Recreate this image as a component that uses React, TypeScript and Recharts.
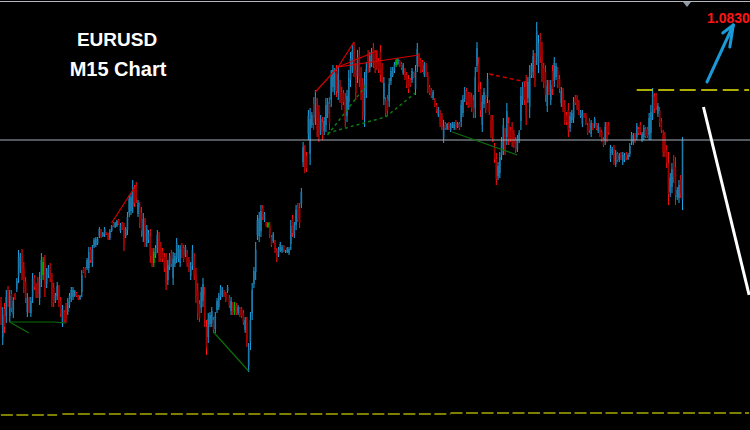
import { ComposedChart, Bar, XAxis, YAxis, ReferenceLine } from "recharts";

// EURUSD M15 candles (oldest first)
const opens = [
	1.07874, 1.07806, 1.07862, 1.07848, 1.079, 1.07848, 1.07892, 1.07852, 1.07892, 1.07902,
	1.07928, 1.07942, 1.0797, 1.07944, 1.07916, 1.07856, 1.0788, 1.07854, 1.07886, 1.07924,
	1.07908, 1.07918, 1.07884, 1.0792, 1.0793, 1.07954, 1.07912, 1.0793, 1.07946, 1.0792,
	1.07904, 1.07878, 1.07888, 1.07902, 1.07878, 1.07834, 1.07856, 1.07866, 1.07856, 1.0787,
	1.07882, 1.07886, 1.07888, 1.07894, 1.07888, 1.07882, 1.07896, 1.07944, 1.07942, 1.07944,
	1.07944, 1.0798, 1.07954, 1.07988, 1.0799, 1.07994, 1.08008, 1.08018, 1.08008, 1.0801,
	1.08016, 1.08012, 1.08004, 1.08018, 1.08034, 1.08026, 1.08028, 1.0804, 1.08018, 1.08032,
	1.08022, 1.08008, 1.0802, 1.08054, 1.08058, 1.08068, 1.08102, 1.08108, 1.08052, 1.08066,
	1.08054, 1.08008, 1.08032, 1.07994, 1.08, 1.08008, 1.07976, 1.07954, 1.0797, 1.07984,
	1.08004, 1.07988, 1.07978, 1.07966, 1.0796, 1.0792, 1.07946, 1.07974, 1.07924, 1.07952,
	1.07964, 1.07962, 1.07954, 1.07988, 1.07984, 1.0797, 1.07974, 1.0796, 1.07928, 1.0795,
	1.07964, 1.0793, 1.079, 1.07872, 1.07864, 1.07878, 1.0789, 1.07826, 1.07806, 1.07832,
	1.07834, 1.0784, 1.07822, 1.0786, 1.07866, 1.07886, 1.0789, 1.07898, 1.07892, 1.07898,
	1.07884, 1.07858, 1.0787, 1.07856, 1.0787, 1.07854, 1.07862, 1.07862, 1.07854, 1.0782,
	1.07834, 1.07748, 1.07796, 1.07854, 1.07912, 1.07936, 1.0801, 1.08008, 1.08018, 1.08064,
	1.0804, 1.08034, 1.08026, 1.0803, 1.08006, 1.07998, 1.07994, 1.07978, 1.0797, 1.0798,
	1.07978, 1.07988, 1.07976, 1.07976, 1.07974, 1.07992, 1.08042, 1.0801, 1.0803, 1.08066,
	1.08064, 1.08072, 1.08156, 1.08178, 1.08168, 1.08212, 1.08172, 1.0823, 1.08272, 1.08244,
	1.08268, 1.08256, 1.08218, 1.08236, 1.08218, 1.0823, 1.08252, 1.08272, 1.0828, 1.08306,
	1.083, 1.08338, 1.08294, 1.0831, 1.08296, 1.08294, 1.0828, 1.08248, 1.08276, 1.0832,
	1.08346, 1.08382, 1.0834, 1.08328, 1.0837, 1.08332, 1.08308, 1.08248, 1.08298, 1.0837,
	1.08344, 1.08354, 1.08384, 1.0837, 1.08372, 1.08358, 1.08376, 1.08346, 1.08282, 1.08278,
	1.08282, 1.08278, 1.08318, 1.0833, 1.08338, 1.0835, 1.08352, 1.08358, 1.08352, 1.08334,
	1.0834, 1.0833, 1.08322, 1.0832, 1.0832, 1.08334, 1.08302, 1.08348, 1.08368, 1.08358,
	1.08356, 1.08332, 1.08348, 1.08328, 1.08306, 1.083, 1.08284, 1.0828, 1.0827, 1.0825,
	1.08254, 1.08248, 1.08204, 1.08232, 1.08222, 1.08232, 1.0822, 1.08226, 1.08224, 1.08236,
	1.08226, 1.08232, 1.08236, 1.08254, 1.08282, 1.08298, 1.0829, 1.0829, 1.08286, 1.0828,
	1.08264, 1.08348, 1.08352, 1.08302, 1.0823, 1.08272, 1.08282, 1.08286, 1.08274, 1.0824,
	1.0824, 1.08186, 1.08162, 1.08128, 1.08134, 1.0817, 1.08184, 1.08214, 1.08206, 1.08234,
	1.0822, 1.08226, 1.08212, 1.082, 1.08182, 1.082, 1.08238, 1.0828, 1.08306, 1.0831,
	1.08284, 1.08266, 1.0833, 1.08336, 1.0836, 1.08368, 1.0835, 1.08402, 1.0838, 1.08344,
	1.08336, 1.08268, 1.08314, 1.0828, 1.08338, 1.08318, 1.08326, 1.08338, 1.08322, 1.08274,
	1.08294, 1.0827, 1.0825, 1.0826, 1.08224, 1.0824, 1.08244, 1.08286, 1.08284, 1.08274,
	1.08248, 1.08232, 1.08252, 1.0825, 1.0823, 1.08238, 1.08212, 1.08232, 1.08228, 1.08232,
	1.08218, 1.08222, 1.08216, 1.08202, 1.082, 1.08228, 1.0823, 1.08162, 1.08174, 1.08182,
	1.08152, 1.08172, 1.0816, 1.08172, 1.08156, 1.0816, 1.08172, 1.08162, 1.08172, 1.08196,
	1.08194, 1.0821, 1.08206, 1.08222, 1.0823, 1.082, 1.08206, 1.08222, 1.08222, 1.0821,
	1.08214, 1.08252, 1.08286, 1.08288, 1.08252, 1.08258, 1.08238, 1.0821, 1.08206, 1.0818,
	1.08154, 1.08096, 1.08106, 1.08158, 1.08146, 1.08086, 1.08084, 1.0812, 1.0808,
];

const highs = [
	1.07886, 1.07866, 1.07874, 1.079, 1.07908, 1.079, 1.079, 1.07886, 1.07894, 1.07924,
	1.0798, 1.07974, 1.07982, 1.07956, 1.07926, 1.07894, 1.07886, 1.07886, 1.07934, 1.0793,
	1.07914, 1.07926, 1.07936, 1.07974, 1.07966, 1.0797, 1.07944, 1.0795, 1.07954, 1.07934,
	1.07914, 1.07894, 1.07916, 1.0791, 1.07886, 1.0787, 1.0786, 1.07874, 1.07884, 1.07894,
	1.07906, 1.07906, 1.079, 1.07896, 1.0789, 1.0789, 1.0794, 1.07946, 1.07946, 1.07964,
	1.07986, 1.07986, 1.0799, 1.08004, 1.08006, 1.08006, 1.08026, 1.08022, 1.08016, 1.08026,
	1.08016, 1.08014, 1.08022, 1.0803, 1.08036, 1.08036, 1.0804, 1.08042, 1.08034, 1.08036,
	1.08034, 1.08026, 1.08056, 1.0809, 1.08094, 1.0812, 1.0811, 1.08116, 1.0808, 1.08076,
	1.08066, 1.08054, 1.08044, 1.0803, 1.0802, 1.08022, 1.07984, 1.07984, 1.0799, 1.0802,
	1.08016, 1.07996, 1.07984, 1.07974, 1.07974, 1.0796, 1.07974, 1.0798, 1.07976, 1.07974,
	1.08004, 1.0799, 1.0799, 1.07994, 1.0799, 1.0799, 1.0798, 1.07966, 1.07956, 1.0799,
	1.07974, 1.07944, 1.07914, 1.0788, 1.07906, 1.07924, 1.07906, 1.0784, 1.07854, 1.07856,
	1.07866, 1.07846, 1.07856, 1.07884, 1.07894, 1.0791, 1.07906, 1.079, 1.07896, 1.0791,
	1.0789, 1.07886, 1.07876, 1.07876, 1.07874, 1.0787, 1.07866, 1.07866, 1.0786, 1.07846,
	1.07846, 1.07794, 1.07856, 1.07914, 1.07946, 1.07996, 1.0805, 1.08056, 1.0807, 1.0807,
	1.08056, 1.08036, 1.08036, 1.08036, 1.0801, 1.08016, 1.08, 1.07984, 1.07986, 1.07996,
	1.0799, 1.0799, 1.0798, 1.07986, 1.07986, 1.0804, 1.0805, 1.08036, 1.0807, 1.08074,
	1.08074, 1.08104, 1.08196, 1.0819, 1.08176, 1.0826, 1.08264, 1.08256, 1.08286, 1.083,
	1.08284, 1.0827, 1.0825, 1.08246, 1.08246, 1.08284, 1.08284, 1.08286, 1.0834, 1.0835,
	1.08344, 1.0835, 1.08346, 1.0832, 1.08306, 1.083, 1.08294, 1.083, 1.0834, 1.08376,
	1.0839, 1.08396, 1.08354, 1.0838, 1.08386, 1.08346, 1.08324, 1.08336, 1.08356, 1.0838,
	1.08376, 1.08384, 1.08394, 1.0838, 1.0838, 1.08364, 1.0839, 1.08354, 1.08326, 1.08286,
	1.0829, 1.08324, 1.08346, 1.08346, 1.08356, 1.08364, 1.08364, 1.0836, 1.08356, 1.08354,
	1.08344, 1.08336, 1.0833, 1.08324, 1.08344, 1.08336, 1.0835, 1.08394, 1.08374, 1.08364,
	1.0836, 1.08356, 1.08354, 1.08336, 1.0831, 1.08304, 1.083, 1.08284, 1.08274, 1.08266,
	1.0826, 1.08254, 1.0824, 1.08236, 1.08234, 1.08236, 1.08234, 1.08236, 1.08236, 1.0824,
	1.08236, 1.08236, 1.0828, 1.0829, 1.08306, 1.08304, 1.08296, 1.08296, 1.08294, 1.0829,
	1.08346, 1.08396, 1.08366, 1.08316, 1.0829, 1.08304, 1.0829, 1.08334, 1.0828, 1.0825,
	1.0825, 1.08194, 1.08174, 1.08156, 1.08176, 1.08206, 1.08244, 1.08224, 1.08274, 1.08246,
	1.08226, 1.08236, 1.0822, 1.08206, 1.0821, 1.0822, 1.08306, 1.08316, 1.08316, 1.0833,
	1.08326, 1.0835, 1.08354, 1.0838, 1.08374, 1.08436, 1.0841, 1.08414, 1.08396, 1.08354,
	1.0835, 1.0832, 1.0832, 1.0832, 1.0835, 1.08366, 1.08354, 1.08346, 1.0833, 1.08306,
	1.08304, 1.0828, 1.08256, 1.08274, 1.08256, 1.0826, 1.08286, 1.0829, 1.0829, 1.0828,
	1.0826, 1.0826, 1.08254, 1.08254, 1.08234, 1.08244, 1.0824, 1.08234, 1.08246, 1.08234,
	1.08234, 1.08226, 1.0822, 1.08206, 1.08236, 1.08236, 1.08236, 1.0819, 1.08186, 1.0819,
	1.0818, 1.08176, 1.08174, 1.08176, 1.08176, 1.08174, 1.08176, 1.08174, 1.08194, 1.08216,
	1.08214, 1.08214, 1.08234, 1.08226, 1.08236, 1.08216, 1.0823, 1.08226, 1.08226, 1.08254,
	1.0827, 1.08304, 1.08294, 1.08294, 1.08274, 1.08266, 1.08244, 1.0822, 1.08216, 1.0819,
	1.08176, 1.08134, 1.08154, 1.0817, 1.08166, 1.08106, 1.0812, 1.0813, 1.08206,
];

const lows = [
	1.0783, 1.0779, 1.07814, 1.07834, 1.07866, 1.07836, 1.07856, 1.07844, 1.0788, 1.07896,
	1.07914, 1.07934, 1.0792, 1.07894, 1.07874, 1.07846, 1.07854, 1.07846, 1.07874, 1.079,
	1.07884, 1.07884, 1.0787, 1.07906, 1.0792, 1.07886, 1.07904, 1.07924, 1.07916, 1.07866,
	1.07866, 1.07874, 1.0788, 1.07866, 1.07846, 1.07826, 1.07836, 1.07834, 1.0785, 1.07864,
	1.07876, 1.0788, 1.07886, 1.07886, 1.0788, 1.0788, 1.07886, 1.07934, 1.07924, 1.0794,
	1.07934, 1.07954, 1.07946, 1.07984, 1.07986, 1.0799, 1.08004, 1.08004, 1.08006, 1.08006,
	1.0801, 1.08, 1.08, 1.08016, 1.08026, 1.08024, 1.08026, 1.0803, 1.08014, 1.0802,
	1.07978, 1.08004, 1.0801, 1.08046, 1.0805, 1.08054, 1.08066, 1.08074, 1.08046, 1.08024,
	1.08006, 1.07996, 1.07986, 1.07986, 1.07994, 1.07954, 1.07946, 1.07946, 1.07964, 1.07974,
	1.07956, 1.07956, 1.07956, 1.07936, 1.079, 1.0791, 1.0794, 1.07946, 1.0791, 1.07946,
	1.07954, 1.07956, 1.07946, 1.07964, 1.07956, 1.07966, 1.07946, 1.07936, 1.0792, 1.0794,
	1.0792, 1.07874, 1.0784, 1.07836, 1.07854, 1.07866, 1.07826, 1.0777, 1.07794, 1.07826,
	1.07826, 1.07814, 1.07814, 1.07854, 1.0786, 1.0788, 1.07886, 1.07886, 1.07876, 1.07894,
	1.07864, 1.0785, 1.0785, 1.0785, 1.0785, 1.0785, 1.07846, 1.07844, 1.0783, 1.07814,
	1.07786, 1.07736, 1.0778, 1.0784, 1.07904, 1.0792, 1.08, 1.07996, 1.08006, 1.0804,
	1.08036, 1.08026, 1.08024, 1.08004, 1.07986, 1.07994, 1.07974, 1.07956, 1.07966, 1.07976,
	1.07974, 1.07976, 1.07974, 1.07974, 1.0797, 1.0798, 1.08006, 1.08004, 1.0802, 1.08036,
	1.08024, 1.08064, 1.08146, 1.08134, 1.08136, 1.082, 1.0815, 1.08224, 1.0822, 1.0823,
	1.08206, 1.08196, 1.0821, 1.082, 1.0821, 1.08216, 1.08244, 1.0822, 1.08266, 1.08296,
	1.0829, 1.08286, 1.0828, 1.08274, 1.0826, 1.0827, 1.08226, 1.08236, 1.0826, 1.08306,
	1.08334, 1.08326, 1.0828, 1.08314, 1.08306, 1.0828, 1.0824, 1.08226, 1.08284, 1.08334,
	1.08336, 1.08346, 1.08344, 1.08334, 1.0834, 1.08334, 1.08316, 1.08314, 1.0827, 1.08246,
	1.0825, 1.08266, 1.0831, 1.08326, 1.08334, 1.08346, 1.0835, 1.08346, 1.0834, 1.0833,
	1.0832, 1.08304, 1.08294, 1.08306, 1.08314, 1.08324, 1.0829, 1.08336, 1.08346, 1.08334,
	1.08336, 1.08326, 1.08326, 1.08294, 1.0829, 1.08284, 1.0828, 1.08266, 1.08254, 1.08246,
	1.08226, 1.0822, 1.08194, 1.0822, 1.0822, 1.0822, 1.08216, 1.08224, 1.0822, 1.0822,
	1.08224, 1.0822, 1.08226, 1.08246, 1.08276, 1.0827, 1.08264, 1.08266, 1.08256, 1.08244,
	1.08244, 1.08336, 1.08296, 1.08246, 1.08216, 1.08264, 1.08254, 1.08274, 1.0825, 1.08204,
	1.08196, 1.08154, 1.0811, 1.0812, 1.08124, 1.0816, 1.0817, 1.0817, 1.0819, 1.0819,
	1.08196, 1.08186, 1.08184, 1.08174, 1.08176, 1.08194, 1.0822, 1.0827, 1.0827, 1.0823,
	1.08274, 1.08244, 1.08324, 1.08324, 1.08306, 1.0835, 1.08334, 1.08354, 1.08316, 1.08304,
	1.08276, 1.08256, 1.0829, 1.0827, 1.0829, 1.08306, 1.0832, 1.08304, 1.08294, 1.08266,
	1.08256, 1.0823, 1.0823, 1.08206, 1.08216, 1.08234, 1.08234, 1.0827, 1.0826, 1.0825,
	1.08244, 1.08226, 1.08244, 1.0823, 1.0821, 1.08214, 1.08206, 1.0822, 1.08224, 1.0822,
	1.08214, 1.08206, 1.08196, 1.08186, 1.0819, 1.08196, 1.0821, 1.08156, 1.0817, 1.0815,
	1.08146, 1.08156, 1.08156, 1.0816, 1.0815, 1.08156, 1.0816, 1.0816, 1.08166, 1.0819,
	1.0819, 1.08194, 1.082, 1.0821, 1.0821, 1.08196, 1.082, 1.08204, 1.08204, 1.082,
	1.082, 1.0824, 1.08254, 1.0826, 1.08246, 1.08226, 1.08214, 1.08166, 1.08166, 1.08144,
	1.0807, 1.08086, 1.08094, 1.08114, 1.0807, 1.0808, 1.08074, 1.08084, 1.0806,
];

const closes = [
	1.07842, 1.0785, 1.07826, 1.07886, 1.07874, 1.07888, 1.07864, 1.07878, 1.07882, 1.07918,
	1.07966, 1.07966, 1.07932, 1.07906, 1.07884, 1.07884, 1.0786, 1.07878, 1.07922, 1.07906,
	1.0789, 1.07892, 1.07922, 1.0796, 1.07956, 1.07902, 1.07936, 1.07944, 1.07924, 1.0788,
	1.07876, 1.0789, 1.07908, 1.07874, 1.07854, 1.07862, 1.0784, 1.07842, 1.07878, 1.07888,
	1.079, 1.079, 1.07898, 1.07888, 1.07882, 1.07888, 1.0793, 1.07936, 1.07928, 1.0796,
	1.07976, 1.0796, 1.07982, 1.08, 1.08002, 1.08002, 1.08022, 1.08008, 1.08014, 1.08022,
	1.08012, 1.08002, 1.08018, 1.08028, 1.08028, 1.08034, 1.08038, 1.08032, 1.0803, 1.08024,
	1.0799, 1.08022, 1.08046, 1.08082, 1.08086, 1.08106, 1.08074, 1.08082, 1.08074, 1.08034,
	1.08018, 1.08042, 1.07998, 1.08022, 1.08014, 1.07968, 1.07954, 1.07976, 1.07984, 1.0801,
	1.07968, 1.07964, 1.07962, 1.07944, 1.07914, 1.0795, 1.07968, 1.07952, 1.07962, 1.07968,
	1.07994, 1.07984, 1.07982, 1.0797, 1.07962, 1.07986, 1.07952, 1.07942, 1.07948, 1.0798,
	1.0793, 1.07888, 1.07854, 1.07844, 1.07896, 1.07912, 1.07842, 1.07784, 1.07842, 1.0785,
	1.07858, 1.0782, 1.07848, 1.07878, 1.07888, 1.07904, 1.07902, 1.07888, 1.0788, 1.07906,
	1.0787, 1.07878, 1.07856, 1.0787, 1.07854, 1.07866, 1.0785, 1.07848, 1.07836, 1.0784,
	1.07798, 1.07782, 1.0784, 1.079, 1.07938, 1.0798, 1.0804, 1.08044, 1.08058, 1.08046,
	1.08052, 1.08028, 1.08034, 1.0801, 1.0799, 1.08012, 1.0798, 1.07962, 1.07982, 1.07992,
	1.07986, 1.07978, 1.07978, 1.07984, 1.07982, 1.08028, 1.08014, 1.0803, 1.0806, 1.08044,
	1.08034, 1.08096, 1.08186, 1.08146, 1.08144, 1.08248, 1.08242, 1.0825, 1.08234, 1.08286,
	1.08222, 1.0821, 1.08242, 1.0821, 1.08238, 1.0827, 1.08276, 1.08234, 1.08326, 1.0834,
	1.08334, 1.08298, 1.08332, 1.08284, 1.0827, 1.08276, 1.0824, 1.08288, 1.08324, 1.08362,
	1.08378, 1.0834, 1.08294, 1.08366, 1.08322, 1.08294, 1.08256, 1.08314, 1.08342, 1.08344,
	1.08368, 1.08376, 1.08354, 1.08344, 1.08348, 1.0834, 1.0833, 1.08322, 1.08314, 1.08254,
	1.08258, 1.08312, 1.08338, 1.08342, 1.08352, 1.0836, 1.08362, 1.08348, 1.08344, 1.0835,
	1.08324, 1.0831, 1.08302, 1.0831, 1.08338, 1.08326, 1.08338, 1.08382, 1.08352, 1.0834,
	1.0834, 1.0835, 1.08332, 1.08302, 1.08294, 1.08288, 1.08296, 1.0827, 1.08258, 1.08262,
	1.08232, 1.08226, 1.0823, 1.08224, 1.08232, 1.08224, 1.0823, 1.08234, 1.08232, 1.08224,
	1.08234, 1.08224, 1.0827, 1.08282, 1.083, 1.08276, 1.0827, 1.08272, 1.08264, 1.08254,
	1.08326, 1.08384, 1.0831, 1.0826, 1.08276, 1.08296, 1.08262, 1.08322, 1.08256, 1.08214,
	1.08206, 1.08162, 1.08122, 1.08148, 1.08166, 1.08196, 1.0823, 1.0818, 1.08258, 1.08202,
	1.08202, 1.08196, 1.08192, 1.0818, 1.08204, 1.08214, 1.08288, 1.08306, 1.0828, 1.0825,
	1.08316, 1.08328, 1.08348, 1.08368, 1.0832, 1.08418, 1.08394, 1.08366, 1.08332, 1.08314,
	1.0829, 1.08308, 1.08296, 1.0831, 1.08302, 1.08354, 1.08348, 1.08312, 1.08302, 1.08298,
	1.08266, 1.0824, 1.08236, 1.0822, 1.08248, 1.08254, 1.08276, 1.08274, 1.08266, 1.08256,
	1.08256, 1.08254, 1.08246, 1.08234, 1.08214, 1.0822, 1.08234, 1.08222, 1.08242, 1.08222,
	1.0823, 1.0821, 1.082, 1.0819, 1.08226, 1.08204, 1.08216, 1.08184, 1.08182, 1.08158,
	1.08174, 1.0816, 1.0817, 1.08164, 1.0817, 1.0817, 1.08164, 1.0817, 1.08188, 1.0821,
	1.0821, 1.08198, 1.08228, 1.08214, 1.08216, 1.08212, 1.08224, 1.08208, 1.08208, 1.08244,
	1.08256, 1.08292, 1.08262, 1.08266, 1.08268, 1.08234, 1.0822, 1.08176, 1.08176, 1.08154,
	1.08092, 1.08124, 1.08142, 1.08126, 1.0809, 1.081, 1.0811, 1.08094, 1.082,
];

// bars the indicator paints green
const greenBars = [24, 87, 133, 152, 225];

// empty space kept on the right of the last bar
const totalSlots = 427;

const priceDomain = [1.0762, 1.0848];
const bidPrice = 1.082;
const targetLevel = 1.083;
const targetLabel = "1.0830";

// zigzag legs: [fromBar, fromPrice, toBar, toPrice]
const zigRed = [
	[63, 1.08034, 77, 1.0811],
	[179, 1.08296, 192, 1.08346],
	[192, 1.08346, 201, 1.08396],
	[192, 1.08346, 214, 1.08378],
	[214, 1.08378, 214, 1.08356],
	[192, 1.08346, 238, 1.0837],
];
const zigGreen = [
	[5, 1.07836, 16, 1.07814],
	[5, 1.07836, 30, 1.07836],
	[30, 1.07836, 37, 1.07834],
	[121, 1.07816, 141, 1.07738],
	[257, 1.08216, 294, 1.0817],
];
const zigGreenDashed = [
	[186, 1.0821, 209, 1.08314],
	[186, 1.08214, 219, 1.08246],
	[219, 1.08246, 236, 1.08294],
];
const zigRedDashed = [[278, 1.08332, 299, 1.08316]];

// lower support level, drawn in three pieces as on the chart
const supportPieces = [
	[0, 1.0765, 32],
	[35, 1.07652, 256],
	[256, 1.07654, 426],
];

// hand-drawn projection arrows
const downLeg = [400, 1.08266, 426, 1.0789];
const upArrow = [
	[402, 1.08316, 417, 1.0843],
	[417, 1.0843, 411, 1.08414],
	[417, 1.0843, 415, 1.08386],
];

const data = Array.from({ length: totalSlots }, (_, i) =>
	i < opens.length
		? {
				i,
				range: [lows[i], highs[i]],
				o: opens[i],
				h: highs[i],
				l: lows[i],
				c: closes[i],
				green: greenBars.includes(i),
		  }
		: { i, range: null }
);

const Candle = (props: any) => {
	const { x, y, width, height, payload } = props;
	if (!payload || payload.o == null) return null;
	const { o, h, l, c, green } = payload;
	const top = Math.min(y, y + height);
	const bot = Math.max(y, y + height);
	const k = h === l ? 0 : (bot - top) / (h - l);
	const bodyTop = top + (h - Math.max(o, c)) * k;
	const bodyBot = top + (h - Math.min(o, c)) * k;
	const cx = x + width / 2;
	const up = c >= o;
	const wick = green ? "#00c800" : up ? "#1ea6e8" : "#ff1010";
	const body = green ? "#00b000" : up ? "#1c79ab" : "#a30000";
	return (
		<g>
			<line x1={cx} x2={cx} y1={top} y2={bot} stroke={wick} strokeWidth={1} />
			<rect
				x={cx - 0.8}
				y={bodyTop}
				width={1.6}
				height={Math.max(1, bodyBot - bodyTop)}
				fill={body}
			/>
		</g>
	);
};

const seg = (x1: number, y1: number, x2: number, y2: number) => [
	{ x: x1, y: y1 },
	{ x: x2, y: y2 },
];

const App = () => {
	return (
		<div
			style={{
				position: "absolute",
				left: 0,
				top: 0,
				width: 750,
				height: 430,
				background: "#000",
				overflow: "hidden",
			}}
		>
			<ComposedChart
				width={750}
				height={430}
				data={data}
				margin={{ top: 0, right: 0, bottom: 0, left: 0 }}
				barCategoryGap={0}
			>
				<XAxis dataKey="i" type="category" hide />
				<YAxis type="number" domain={priceDomain} allowDataOverflow hide />
				<ReferenceLine y={bidPrice} stroke="#a7b1bf" strokeWidth={1} />
				<ReferenceLine
					segment={seg(362, targetLevel, 426, targetLevel)}
					stroke="#e8e800"
					strokeWidth={1.6}
					strokeDasharray="16 5.5"
					ifOverflow="visible"
				/>
				{supportPieces.map(([a, p, b], k) => (
					<ReferenceLine
						key={`s${k}`}
						segment={seg(a, p, b, p)}
						stroke="#808000"
						strokeWidth={2}
						strokeDasharray="12 3.5"
						ifOverflow="visible"
					/>
				))}
				<Bar dataKey="range" shape={Candle} isAnimationActive={false} />
				{zigRed.map(([a, p, b, q], k) => (
					<ReferenceLine
						key={`zr${k}`}
						segment={seg(a, p, b, q)}
						stroke="#d40000"
						strokeWidth={1.2}
						ifOverflow="visible"
					/>
				))}
				{zigGreen.map(([a, p, b, q], k) => (
					<ReferenceLine
						key={`zg${k}`}
						segment={seg(a, p, b, q)}
						stroke="#0b6e0b"
						strokeWidth={1.2}
						ifOverflow="visible"
					/>
				))}
				{zigGreenDashed.map(([a, p, b, q], k) => (
					<ReferenceLine
						key={`zgd${k}`}
						segment={seg(a, p, b, q)}
						stroke="#0d7a0d"
						strokeWidth={1.5}
						strokeDasharray="3 3"
						ifOverflow="visible"
					/>
				))}
				{zigRedDashed.map(([a, p, b, q], k) => (
					<ReferenceLine
						key={`zrd${k}`}
						segment={seg(a, p, b, q)}
						stroke="#c80000"
						strokeWidth={1.6}
						strokeDasharray="4 3"
						ifOverflow="visible"
					/>
				))}
				<ReferenceLine
					segment={seg(downLeg[0], downLeg[1], downLeg[2], downLeg[3])}
					stroke="#ffffff"
					strokeWidth={3}
					ifOverflow="visible"
				/>
				{upArrow.map(([a, p, b, q], k) => (
					<ReferenceLine
						key={`ua${k}`}
						segment={seg(a, p, b, q)}
						stroke="#1b9ad8"
						strokeWidth={3}
						strokeLinecap="round"
						ifOverflow="visible"
					/>
				))}
			</ComposedChart>
			<div
				style={{
					position: "absolute",
					left: 0,
					top: 1,
					width: 750,
					height: 1,
					background: "#b4b8bd",
				}}
			/>
			<div
				style={{
					position: "absolute",
					left: 683,
					top: 2,
					width: 0,
					height: 0,
					borderLeft: "4px solid transparent",
					borderRight: "4px solid transparent",
					borderTop: "5px solid #8e99a6",
				}}
			/>
			<svg
				width={750}
				height={430}
				style={{ position: "absolute", left: 0, top: 0, pointerEvents: "none" }}
			>
				<g fontFamily="'Liberation Sans', Arial, sans-serif" fontWeight="bold">
					<text x={117} y={46} textAnchor="middle" fill="#ffffff" fontSize={19}>
						EURUSD
					</text>
					<text x={118} y={76} textAnchor="middle" fill="#ffffff" fontSize={20}>
						M15 Chart
					</text>
					<text x={707} y={23} fill="#ff1414" fontSize={14}>
						{targetLabel}
					</text>
				</g>
			</svg>
		</div>
	);
};

export default App;
